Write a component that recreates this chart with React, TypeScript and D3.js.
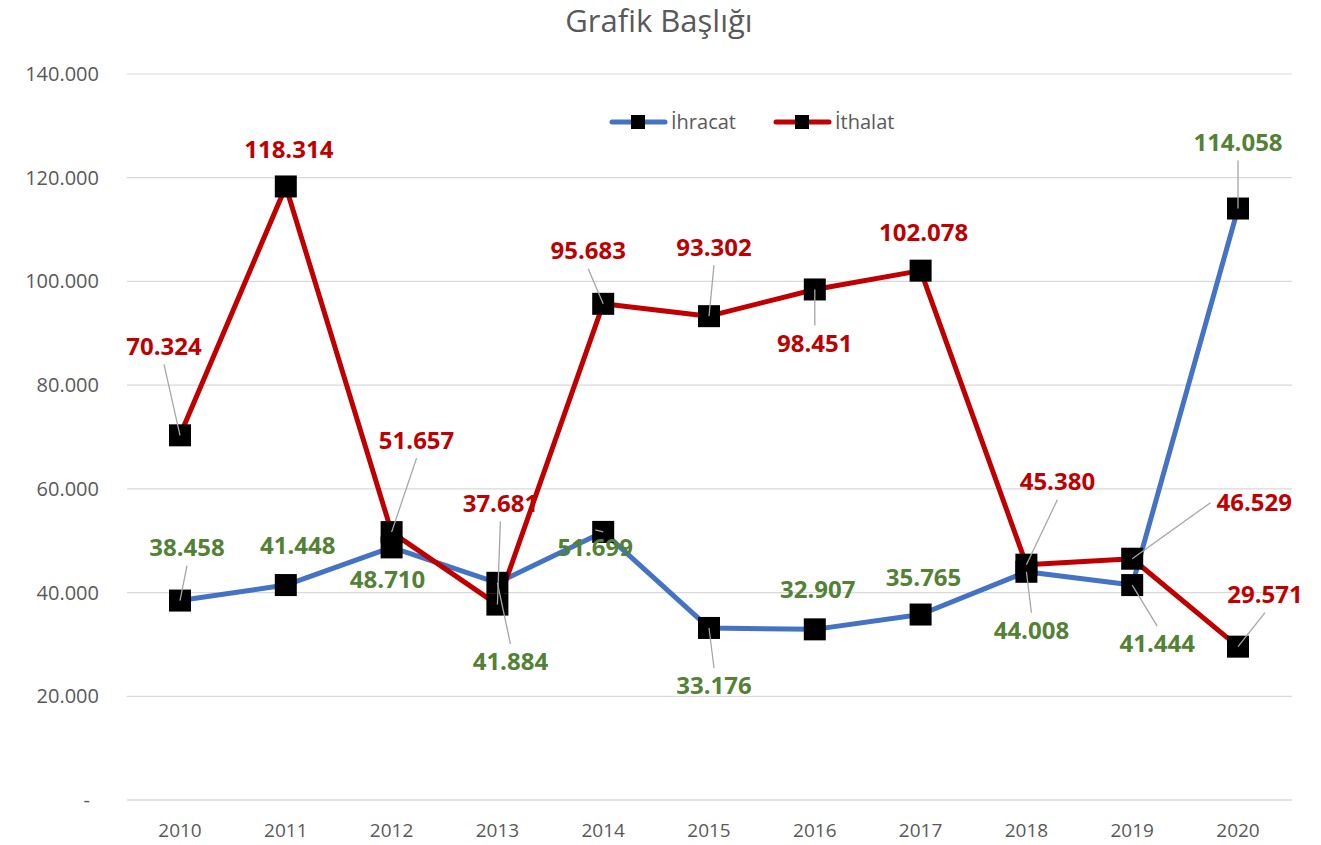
import React, { useEffect, useRef } from "react";
import * as d3 from "d3";

const years = ["2010", "2011", "2012", "2013", "2014", "2015", "2016", "2017", "2018", "2019", "2020"];
const ihracat = [38458, 41448, 48710, 41884, 51699, 33176, 32907, 35765, 44008, 41444, 114058];
const ithalat = [70324, 118314, 51657, 37681, 95683, 93302, 98451, 102078, 45380, 46529, 29571];
const yTicks = [0, 20000, 40000, 60000, 80000, 100000, 120000, 140000];
const seriesNames = ["İhracat", "İthalat"];
const title = "Grafik Başlığı";
// label offsets (px) relative to each point
const ihrOffsets: [number, number][] = [[7, -53], [12, -39], [-4, 32], [13, 79], [-8, 16], [5, 58], [3, -40], [3, -37], [5, 59], [25, 59], [0, -66]];
const ithOffsets: [number, number][] = [[-16, -89], [3, -37], [25, -92], [3, -101], [-15, -53], [5, -69], [0, 54], [3, -38], [31, -83], [122, -56], [27, -52]];

const W = 1321, H = 845;
const FONT = "'Open Sans', 'Liberation Sans', sans-serif";

export default function App() {
  const ref = useRef<SVGSVGElement>(null);
  useEffect(() => {
    const svg = d3.select(ref.current);
    svg.selectAll("*").remove();
    const loc = d3.formatLocale({ decimal: ",", thousands: ".", grouping: [3], currency: ["", ""] });
    const fmt = loc.format(",.0f");
    const x = d3.scalePoint<string>().domain(years).range([180, 1238]);
    const y = d3.scaleLinear().domain([0, 140000]).range([800, 74]);
    const left = 127, right = 1292;

    svg.append("rect").attr("width", W).attr("height", H).attr("fill", "#fff");

    // title
    svg.append("text").attr("x", 659).attr("y", 21).attr("dy", "0.35em").attr("text-anchor", "middle")
      .attr("font-family", FONT).attr("font-size", 31).attr("fill", "#595959").text(title);

    // grid
    svg.append("g").selectAll("line").data(yTicks).join("line")
      .attr("x1", left).attr("x2", right)
      .attr("y1", (d) => y(d)).attr("y2", (d) => y(d))
      .attr("stroke", "#d9d9d9").attr("stroke-width", (d) => (d === 0 ? 1.5 : 1.2));

    svg.append("g").selectAll("text").data(yTicks).join("text")
      .attr("x", (d) => (d === 0 ? 90 : 99)).attr("y", (d) => y(d)).attr("dy", "0.35em")
      .attr("text-anchor", "end").attr("font-family", FONT).attr("font-size", 20).attr("fill", "#595959")
      .text((d) => (d === 0 ? "-" : fmt(d)));

    svg.append("g").selectAll("text").data(years).join("text")
      .attr("x", (d) => x(d)!).attr("y", 830).attr("dy", "0.35em")
      .attr("text-anchor", "middle").attr("font-family", FONT).attr("font-size", 19).attr("fill", "#595959")
      .text((d) => d);

    const series = [
      { name: seriesNames[0], values: ihracat, color: "#4472C4", labelColor: "#538135", offsets: ihrOffsets },
      { name: seriesNames[1], values: ithalat, color: "#C00000", labelColor: "#C00000", offsets: ithOffsets },
    ];
    const line = d3.line<number>().x((_, i) => x(years[i])!).y((d) => y(d));
    series.forEach((s) => {
      svg.append("path").attr("d", line(s.values)).attr("fill", "none").attr("stroke", s.color)
        .attr("stroke-width", 5).attr("stroke-linejoin", "round").attr("stroke-linecap", "round");
    });
    const M = 22;
    series.forEach((s) => {
      svg.append("g").selectAll("rect").data(s.values).join("rect")
        .attr("x", (_, i) => x(years[i])! - M / 2).attr("y", (d) => y(d) - M / 2)
        .attr("width", M).attr("height", M).attr("fill", "#000");
    });

    const leaderG = svg.append("g");
    const labelG = svg.append("g");
    // labels + leaders
    series.forEach((s) => {
      s.values.forEach((v, i) => {
        const px = x(years[i])!, py = y(v);
        const [dx, dy] = s.offsets[i];
        const cx = px + dx, cy = py + dy;
        const t = labelG.append("text").attr("x", cx).attr("y", cy).attr("dy", "0.35em")
          .attr("text-anchor", "middle").attr("font-family", FONT).attr("font-weight", 700)
          .attr("font-size", 24).attr("fill", s.labelColor).text(fmt(v));
        const bb = (t.node() as SVGTextElement).getBBox();
        const hw = bb.width / 2, hh = 12, gap = 6;
        let ax: number, ay: number;
        if (Math.abs(dy) > Math.abs(dx) * 0.5) {
          ax = cx;
          ay = dy < 0 ? cy + hh + gap : cy - hh - gap;
        } else {
          ay = cy;
          ax = dx > 0 ? cx - hw - gap : cx + hw + gap;
        }
        const dist = Math.hypot(ax - px, ay - py);
        if (dist > 28 || Math.abs(dy) < 20) {
          leaderG.append("line").attr("x1", px).attr("y1", py).attr("x2", ax).attr("y2", ay)
            .attr("stroke", "#a6a6a6").attr("stroke-width", 1.3);
        }
      });
    });

    // legend
    const legend = [
      { x: 612, s: series[0] },
      { x: 776, s: series[1] },
    ];
    legend.forEach(({ x: lx, s }) => {
      const g = svg.append("g");
      g.append("line").attr("x1", lx).attr("x2", lx + 53).attr("y1", 122).attr("y2", 122)
        .attr("stroke", s.color).attr("stroke-width", 5).attr("stroke-linecap", "round");
      g.append("rect").attr("x", lx + 26 - 7).attr("y", 122 - 7).attr("width", 14).attr("height", 14).attr("fill", "#000");
      g.append("text").attr("x", lx + 59).attr("y", 122).attr("dy", "0.35em")
        .attr("font-family", FONT).attr("font-size", 20).attr("fill", "#595959").text(s.name);
    });
  }, []);
  return (
    <svg ref={ref} width={W} height={H} style={{ position: "absolute", left: 0, top: 0, display: "block" }} />
  );
}
